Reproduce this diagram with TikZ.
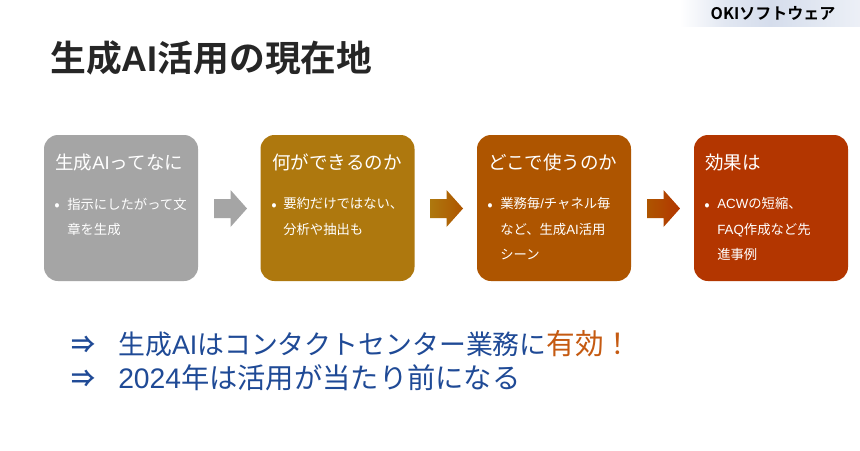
\documentclass[tikz,border=0pt]{standalone}
\usepackage{fontspec}
\usetikzlibrary{calc}
\setmainfont{Noto Sans CJK JP}
\newfontfamily\jpbold{Noto Sans CJK JP Bold}
\newfontfamily\lat{Liberation Sans}
\newfontfamily\latb{Liberation Sans Bold}
\definecolor{cgrey}{HTML}{A5A5A5}
\definecolor{cgold}{HTML}{AE780E}
\definecolor{corange}{HTML}{AE5500}
\definecolor{cred}{HTML}{B33600}
\definecolor{cblue}{HTML}{1F4A96}
\definecolor{cacc}{HTML}{C55A11}
\definecolor{ctitle}{HTML}{262626}
\definecolor{clogo}{HTML}{D5DDEC}
\newcommand{\flowarrow}[1]{(#1) ++(0,-9.5) -- ++(16.5,0) -- ++(0,-9) -- ++(16.5,18.5) -- ++(-16.5,18.5) -- ++(0,-9) -- ++(-16.5,0) -- cycle}
\tikzset{
  x=0.75pt,y=-0.75pt,
  card/.style={rounded corners=10.5pt,minimum width=115.5pt,minimum height=109.5pt,inner sep=0pt,draw=none},
  head/.style={anchor=west,inner sep=0pt,text=white,font=\fontsize{13.9pt}{16pt}\selectfont},
  bullet/.style={anchor=base,inner sep=0pt,text=white,font=\fontsize{12pt}{12pt}\selectfont},
  body/.style={anchor=north west,inner sep=0pt,text=white,align=left,text width=92pt,
    font=\fontsize{10pt}{18.9pt}\selectfont},
  concl/.style={anchor=base west,inner sep=0pt,text=cblue,font=\fontsize{20.15pt}{24pt}\selectfont},
  implies/.style={anchor=base west,inner sep=0pt,text=cblue,font=\jpbold\fontsize{18pt}{24pt}\selectfont},
}
\begin{document}
\begin{tikzpicture}
\useasboundingbox (0,0) rectangle (860,450);
\fill[white] (0,0) rectangle (860,450);
% logo band
\shade[left color=white,right color=clogo,middle color=clogo!70] (680,0) rectangle (770,26);
\shade[left color=clogo,right color=clogo!45] (770,0) rectangle (860,26);
\node[anchor=center,inner sep=0pt,text=black] (logo) at (773,13.5) {\jpbold\fontsize{12pt}{14pt}\selectfont OKIソフトウェア};
% title
\node[anchor=base west,inner sep=0pt,text=ctitle] (title) at (50,71) {\jpbold\fontsize{26.85pt}{32pt}\selectfont 生成{\latb AI}活用の現在地};
% cards
\node[card,fill=cgrey]   (c1) at (121,208) {};
\node[card,fill=cgold]   (c2) at (337.5,208) {};
\node[card,fill=corange] (c3) at (554,208) {};
\node[card,fill=cred]    (c4) at (771,208) {};
% arrows
\coordinate (a1) at (214,208.5);
\coordinate (a2) at (430,208.5);
\coordinate (a3) at (647,208.5);
\fill[cgrey] \flowarrow{a1};
\shade[left color=cgold,right color=corange] \flowarrow{a2};
\shade[left color=corange,right color=cred] \flowarrow{a3};
% card 1
\node[head] (h1) at (55,162.5) {生成{\lat AI}ってなに};
\node[bullet] (b1) at (57,210) {•};
\node[body] (t1) at (67,197.5) {指示にしたがって文\\章を生成};
% card 2
\node[head] (h2) at (272,162.5) {何ができるのか};
\node[bullet] (b2) at (274,210) {•};
\node[body] (t2) at (283,197.5) {要約だけではない、\\分析や抽出も};
% card 3
\node[head] (h3) at (488,162.5) {どこで使うのか};
\node[bullet] (b3) at (490,210) {•};
\node[body] (t3) at (500,197.5) {業務毎{\lat /}チャネル毎\\など、生成{\lat AI}活用\\シーン};
% card 4
\node[head] (h4) at (705,162.5) {効果は};
\node[bullet] (b4) at (707,210) {•};
\node[body] (t4) at (717,197.5) {{\lat ACW}の短縮、\\{\lat FAQ}作成など先\\進事例};
% conclusions
\node[implies] (m1) at (71,353) {⇒};
\node[concl] (l1) at (118,354) {生成{\lat AI}はコンタクトセンター業務に\textcolor{cacc}{\fontsize{21.5pt}{24pt}\selectfont 有効！}};
\node[implies] (m2) at (71,387) {⇒};
\node[concl,font=\fontsize{21.2pt}{24pt}\selectfont] (l2) at (118,388) {{\lat 2024}年は活用が当たり前になる};
\end{tikzpicture}
\end{document}
